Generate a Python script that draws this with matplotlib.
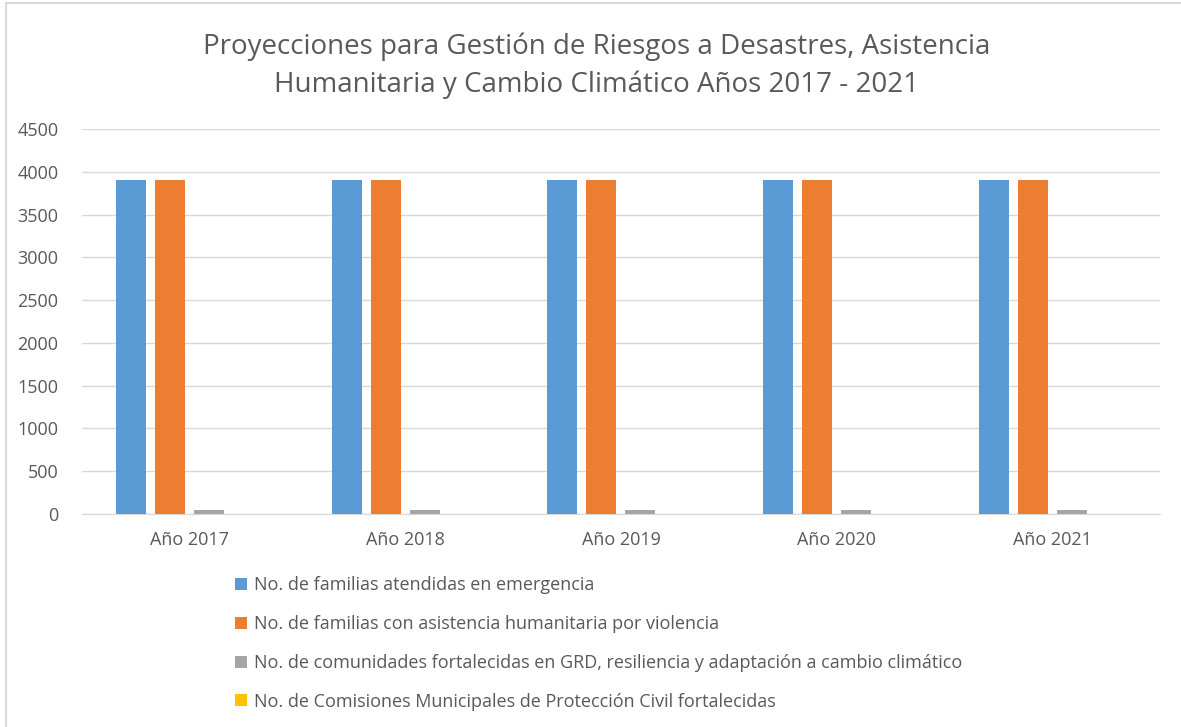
import numpy as np
import matplotlib.pyplot as plt
from matplotlib.patches import Rectangle

# Datos
anios = ['Año 2017', 'Año 2018', 'Año 2019', 'Año 2020', 'Año 2021']
familias_emergencia = [3900, 3900, 3900, 3900, 3900]
familias_violencia = [3900, 3900, 3900, 3900, 3900]
comunidades_grd = [45, 45, 45, 45, 45]
comisiones_municipales = [0, 0, 0, 0, 0]

series = [
    ('No. de familias atendidas en emergencia', familias_emergencia, '#5b9bd5'),
    ('No. de familias con asistencia humanitaria por violencia', familias_violencia, '#ed7d31'),
    ('No. de comunidades fortalecidas en GRD, resiliencia y adaptación a cambio climático', comunidades_grd, '#a5a5a5'),
    ('No. de Comisiones Municipales de Protección Civil fortalecidas', comisiones_municipales, '#ffc000'),
]

plt.rcParams['font.family'] = ['Open Sans', 'DejaVu Sans']
txt = '#595959'

fig = plt.figure(figsize=(11.81, 7.27), dpi=100)
ax = fig.add_axes([0.0694, 0.293, 0.9128, 0.5296])

x = np.arange(len(anios))
ancho = 0.139
paso = 0.181
for i, (nombre, valores, color) in enumerate(series):
    ax.bar(x + (i - 1.5) * paso, valores, ancho, color=color, label=nombre, zorder=3)

ax.set_xlim(-0.5, len(anios) - 0.5)
ax.set_ylim(0, 4500)
ax.set_yticks(range(0, 4501, 500))
ax.set_xticks(x)
ax.set_xticklabels(anios)
ax.tick_params(axis='both', length=0, labelsize=13, colors=txt, pad=12)
ax.tick_params(axis='y', pad=17)
ax.grid(axis='y', color='#d9d9d9', linewidth=1, zorder=0)
for s in ['top', 'right', 'left']:
    ax.spines[s].set_visible(False)
ax.spines['bottom'].set_color('#d9d9d9')

fig.text(0.505, 0.91, 'Proyecciones para Gestión de Riesgos a Desastres, Asistencia\n'
         'Humanitaria y Cambio Climático Años 2017 - 2021',
         ha='center', va='center', fontsize=20, color=txt, linespacing=1.45)

leg = fig.legend(loc='upper left', bbox_to_anchor=(0.193, 0.217), frameon=False,
                 fontsize=13, labelcolor=txt, handlelength=0.65, handleheight=0.65,
                 handletextpad=0.4, labelspacing=1.15, borderaxespad=0)

fig.patches.append(Rectangle((0.005, -0.01), 1.0, 1.006, transform=fig.transFigure,
                             fill=False, edgecolor='#d9d9d9', linewidth=1.5))

plt.savefig('out.png', dpi=100)
